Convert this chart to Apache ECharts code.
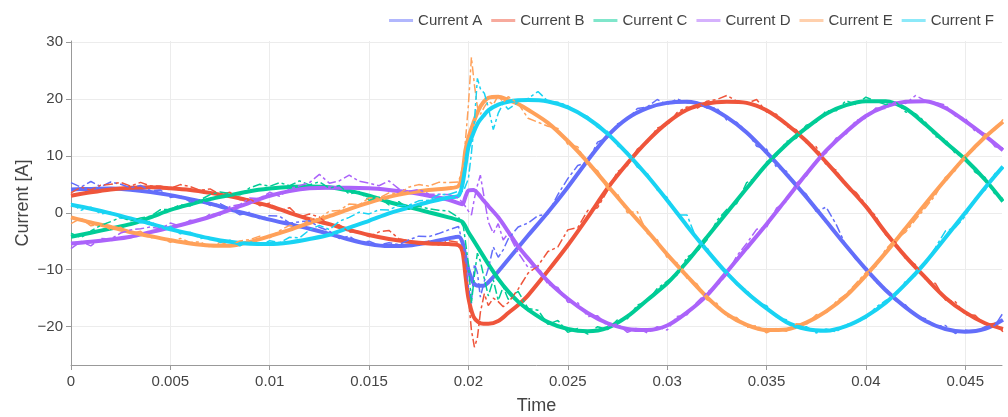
<!DOCTYPE html>
<html><head><meta charset="utf-8">
<script src="https://cdn.jsdelivr.net/npm/echarts@6/dist/echarts.min.js"></script>
<style>html,body{margin:0;padding:0;background:#fff}#c{width:1008px;height:417px}</style>
</head><body><div id="c"></div>
<script>
const names = ['Current A','Current B','Current C','Current D','Current E','Current F'];
const colors = ['#636efa','#EF553B','#00cc96','#ab63fa','#FFA15A','#19d3f3'];
const legendColors = ['#b1b7fd','#f7aa9d','#80e6cb','#d5b1fd','#ffd0ad','#8ce9f9'];
const xTicks = [0,0.005,0.01,0.015,0.02,0.025,0.03,0.035,0.04,0.045];
const yTicks = [-20,-10,0,10,20,30];

// smooth (fitted) curves, time in ms
const tFit = [0,1,2,3,4,5,6,7,8,9,10,11,12,13,14,15,16,17,18,19,
  19.5,19.7,19.85,20,20.25,20.5,20.75,21,21.5,22,22.5,
  23,24,25,26,27,28,29,30,31,32,33,34,35,36,37,38,39,40,41,42,43,44,45,46,46.9];
const fitA = [4.1,4.2,4.25,4.05,3.65,3.1,2.4,1.6,0.6,-0.3,-1.2,-2.0,-2.8,-3.7,-4.7,-5.5,-5.85,-5.75,-5.2,-4.5,
  -4.2,-5.2,-7.8,-10.0,-12.3,-12.8,-12.8,-12.2,-10.3,-8.2,-6.1,
  -4.0,0.1,4.5,9.2,13.5,16.6,18.4,19.3,19.5,18.7,16.8,14.1,10.6,6.8,2.8,-1.5,-5.8,-9.9,-13.6,-16.6,-19.0,-20.4,-20.9,-20.4,-18.8];
const fitB = [3.0,3.6,4.1,4.4,4.5,4.3,4.0,3.5,2.9,2.1,1.2,0.0,-1.1,-2.0,-3.0,-3.9,-4.6,-5.1,-5.4,-5.5,
  -5.7,-6.8,-11.0,-15.0,-18.2,-19.2,-19.5,-19.5,-19.0,-17.6,-16.2,
  -14.5,-10.2,-5.7,-0.8,4.3,8.7,12.6,15.8,18.1,19.2,19.5,19.3,18.0,15.6,12.6,8.9,5.0,1.1,-3.5,-7.7,-11.4,-14.9,-17.5,-19.4,-20.4];
const fitC = [-4.2,-3.5,-2.75,-2.0,-0.8,0.5,1.5,2.4,3.1,3.8,4.25,4.55,4.6,4.5,3.9,3.0,1.9,1.0,0.1,-0.8,
  -1.3,-1.6,-2.4,-3.4,-4.8,-6.2,-7.6,-9.0,-11.6,-13.8,-15.6,
  -17.0,-19.2,-20.4,-20.8,-20.2,-18.2,-15.3,-12.4,-8.6,-4.3,0.0,4.3,8.5,12.0,14.9,17.4,18.9,19.6,19.6,18.3,15.5,12.4,9.4,5.8,2.0];
const fitD = [-5.4,-5.1,-4.7,-4.2,-3.4,-2.6,-1.7,-0.7,0.5,1.8,3.0,3.8,4.3,4.4,4.4,4.3,4.0,3.6,3.0,2.3,
  1.7,1.5,2.8,3.9,4.0,3.3,2.2,1.2,-0.8,-3.3,-5.9,
  -8.0,-12.0,-15.1,-17.6,-19.4,-20.4,-20.6,-19.8,-17.5,-14.5,-10.4,-6.2,-2.0,2.4,6.8,10.9,14.2,17.0,18.7,19.5,19.6,18.4,16.1,13.5,11.0];
const fitE = [-0.8,-1.7,-2.5,-3.4,-4.1,-4.8,-5.4,-5.75,-5.8,-5.1,-4.1,-3.0,-1.8,-0.6,0.65,1.8,2.8,3.5,4.0,4.3,
  4.7,7.0,11.0,13.2,15.8,18.0,19.4,20.2,20.4,19.8,19.1,
  18.1,15.8,12.6,8.9,4.8,0.7,-3.2,-7.3,-11.1,-14.8,-17.8,-19.7,-20.6,-20.5,-19.3,-17.3,-14.6,-11.0,-7.0,-2.7,1.6,5.8,9.8,13.3,16.0];
const fitF = [1.4,0.7,-0.1,-1.0,-1.9,-2.9,-3.7,-4.5,-5.1,-5.45,-5.5,-5.2,-4.6,-3.85,-2.6,-1.4,-0.1,0.9,1.9,2.7,
  3.0,5.0,8.3,11.5,14.0,15.9,17.0,18.0,19.0,19.5,19.75,
  19.8,19.55,18.5,16.6,13.9,10.4,6.5,2.2,-2.3,-6.6,-10.6,-14.0,-16.8,-19.2,-20.4,-20.7,-19.9,-18.2,-15.8,-12.5,-8.7,-4.4,0.0,4.4,8.1];

// noisy (measured) curves, time in ms
const tMeas = [0,0.5,1,1.5,2,2.5,3,3.5,4,4.5,5,5.5,6,6.5,7,7.5,8,8.5,9,9.5,10,10.5,11,11.5,12,12.5,13,13.5,14,14.5,15,15.5,16,16.5,17,17.5,18,18.5,19,19.5,
  19.75,20,20.15,20.3,20.45,20.6,20.8,21,21.25,21.5,21.75,22,
  22.5,23,23.5,24,24.5,25,25.5,26,26.5,27,27.5,28,28.5,29,29.5,30,30.5,31,31.5,32,32.5,33,33.5,34,34.5,35,35.5,36,36.5,37,37.5,38,38.5,39,39.5,40,40.5,41,41.5,42,42.5,43,43.5,44,44.5,45,45.5,46,46.5,
  46.9];
const measA = [5.3,4.5,5.5,4.6,5.4,5.0,4.4,4.8,3.9,4.0,2.7,3.0,1.9,2.2,1.3,1.6,0.7,-0.35,0.1,-1.05,-0.5,-0.6,-1.8,-1.6,-1.4,-2.55,-3.2,-4.5,-4.1,-5.3,-5.0,-5.7,-5.25,-5.6,-4.75,-4.1,-4.2,-3.65,-3.0,-2.4,
  -6.0,-13.0,-15.9,-9.0,-10.5,-14.8,-12.0,-9.8,-6.0,-7.8,-6.5,-4.6,
  -2.5,-1.8,-0.5,-0.2,3.2,6.0,8.3,8.9,12.4,13.2,15.6,16.4,18.3,18.6,19.9,19.0,20.0,19.3,19.4,18.4,18.4,16.3,15.9,14.3,11.7,11.2,8.0,7.3,4.5,3.3,0.2,1.0,-2.0,-5.8,-8.2,-9.5,-12.2,-13.3,-15.4,-16.2,-18.1,-18.6,-19.9,-19.8,-21.2,-20.6,-21.0,-20.0,-19.8,
  -17.6];
const measB = [3.5,4.5,4.0,4.85,5.0,5.35,4.7,5.35,4.7,4.7,4.3,4.95,4.6,3.95,4.2,3.2,3.6,2.3,2.5,1.25,1.7,0.3,0.9,-0.75,-0.2,-0.75,-2.2,-2.1,-3.4,-3.25,-4.2,-3.35,-3.1,-4.55,-4.9,-5.55,-5.0,-5.65,-4.9,-5.2,
  -7.0,-15.0,-20.6,-23.6,-22.0,-17.5,-14.2,-16.3,-15.0,-15.6,-16.5,-15.8,
  -13.4,-10.6,-9.3,-6.8,-6.0,-3.0,-2.6,0.4,0.9,3.9,7.2,8.3,11.2,12.3,14.9,15.4,17.6,18.6,18.3,19.6,19.9,20.6,19.6,19.2,19.9,17.7,17.3,15.2,14.6,12.3,11.6,8.4,7.5,4.7,3.6,1.4,-0.6,-3.9,-5.2,-8.1,-9.1,-11.7,-12.4,-15.3,-15.6,-17.9,-18.0,-19.7,-19.4,
  -20.9];
const measC = [-3.6,-4.35,-3.2,-2.2,-1.55,-0.8,-1.4,-0.9,-0.6,0.55,0.6,1.4,1.2,2.25,3.2,3.65,3.4,3.15,4.4,5.0,4.65,5.3,4.75,5.6,4.9,5.45,4.3,4.8,3.3,3.75,2.2,2.75,1.4,1.95,0.6,1.15,0.7,0.45,0.3,-0.8,
  -2.5,-9.0,-15.9,-11.0,-7.1,-8.5,-11.6,-14.6,-11.8,-15.4,-13.0,-15.2,
  -13.8,-16.8,-17.1,-19.6,-18.9,-21.0,-20.3,-21.3,-20.0,-20.5,-18.8,-18.6,-16.2,-15.6,-13.3,-12.0,-10.9,-7.8,-6.8,-4.8,-1.4,0.6,1.6,5.3,6.2,8.9,10.0,12.5,13.1,15.4,15.9,17.9,17.9,19.7,19.0,20.3,19.6,19.0,19.5,17.7,17.4,15.9,13.4,12.9,10.4,9.8,7.1,6.2,3.2,
  2.5];
const measD = [-6.3,-5.05,-5.8,-4.5,-4.6,-3.55,-3.0,-2.8,-2.5,-2.8,-1.8,-2.35,-1.3,-1.5,-0.2,-0.4,1.1,1.45,2.6,2.5,3.6,2.9,4.2,4.75,5.3,6.75,5.2,5.6,6.6,5.55,5.2,4.75,5.6,4.2,3.8,4.1,3.3,3.25,3.2,2.6,
  1.6,0.3,-0.4,2.5,4.8,6.6,2.5,-1.6,-3.6,-1.9,-4.8,-3.6,
  -7.0,-9.6,-9.4,-12.6,-13.1,-15.7,-15.8,-18.2,-18.1,-19.9,-19.5,-21.0,-20.2,-21.1,-20.0,-20.6,-18.2,-17.9,-15.7,-14.0,-12.8,-10.9,-7.6,-5.4,-2.9,-2.6,0.8,2.0,5.2,6.4,9.2,10.5,13.1,13.8,16.2,16.6,18.4,18.3,19.6,19.2,20.6,19.7,19.4,18.9,17.0,16.6,14.3,13.9,11.6,
  11.4];
const measE = [-1.9,-0.95,-2.3,-1.9,-3.0,-2.55,-3.6,-3.25,-4.4,-4.25,-5.2,-4.5,-5.2,-5.1,-6.05,-5.2,-5.7,-4.95,-4.7,-4.1,-4.4,-3.15,-2.2,-2.6,-1.1,-1.0,0.3,0.4,1.55,1.4,2.6,2.6,3.5,3.35,4.5,4.95,4.7,5.35,5.3,5.4,
  8.5,19.0,27.3,22.5,18.6,17.3,18.6,19.6,19.0,20.6,19.4,20.4,
  19.2,16.6,15.9,15.2,14.8,12.0,11.6,8.3,7.4,4.2,3.3,0.0,0.2,-3.6,-4.7,-7.9,-8.8,-11.5,-12.5,-15.3,-15.9,-18.2,-18.4,-20.1,-19.8,-21.1,-20.3,-20.8,-19.5,-19.6,-17.9,-17.6,-15.6,-14.3,-12.4,-10.5,-9.4,-6.4,-4.6,-3.4,-1.2,0.9,3.1,6.2,7.4,10.2,11.3,13.8,14.6,
  16.4];
const measF = [1.7,0.45,1.0,-0.2,0.1,-0.95,-0.9,-1.75,-1.5,-2.7,-2.4,-3.7,-3.4,-4.5,-4.3,-5.2,-4.8,-5.8,-5.05,-5.8,-4.9,-5.25,-4.3,-4.4,-3.0,-2.2,-2.95,-1.5,-0.8,0.1,-0.2,0.55,0.5,1.3,1.3,2.1,2.2,3.2,3.2,3.8,
  3.8,6.0,10.5,16.0,23.6,21.8,21.0,18.5,14.6,17.5,19.2,18.2,
  19.4,20.1,21.3,19.6,19.4,18.8,17.6,16.9,15.0,14.3,11.8,10.7,8.0,6.9,4.0,2.7,-0.4,-0.4,-4.8,-6.1,-8.9,-10.2,-12.6,-13.6,-15.7,-16.3,-18.3,-18.8,-20.3,-20.0,-21.1,-20.4,-20.9,-19.6,-19.3,-18.5,-16.6,-15.4,-14.6,-12.0,-11.0,-8.9,-6.1,-3.2,-2.6,-0.6,2.5,4.0,6.9,
  7.8];

const fits = [fitA, fitB, fitC, fitD, fitE, fitF];
const meas = [measA, measB, measC, measD, measE, measF];
const font = "'Liberation Sans', Arial, Helvetica, sans-serif";

const series = [];
fits.forEach((arr, i) => {
  series.push({
    name: names[i], type: 'line', symbol: 'none', showSymbol: false, smooth: 0.3,
    data: tFit.map((t, k) => [t / 1000, arr[k]]),
    lineStyle: { width: 4, color: colors[i] }, itemStyle: { color: colors[i] },
    z: 2, silent: true
  });
});
meas.forEach((arr, i) => {
  series.push({
    name: names[i], type: 'line', symbol: 'none', showSymbol: false, smooth: false,
    data: tMeas.map((t, k) => [t / 1000, arr[k]]),
    lineStyle: { width: 1.5, color: colors[i], type: [9, 3, 3, 3] }, itemStyle: { color: colors[i] },
    z: 3, silent: true
  });
});

const axisColor = '#999';
const chart = echarts.init(document.getElementById('c'), null, { renderer: 'canvas' });
chart.setOption({
  animation: false,
  backgroundColor: '#fff',
  textStyle: { fontFamily: font, color: '#444' },
  grid: { left: 71, right: 6, top: 41, bottom: 52, containLabel: false, outerBoundsMode: 'none' },
  legend: {
    data: names.map((n, i) => ({ name: n, itemStyle: { color: legendColors[i] } })),
    icon: 'rect', itemWidth: 24, itemHeight: 3, itemGap: 9,
    right: 9, top: 8,
    textStyle: { fontSize: 15, color: '#444', fontFamily: font }
  },
  xAxis: {
    type: 'value', min: 0, max: 0.04685,
    name: 'Time', nameLocation: 'middle', nameGap: 32, nameMoveOverlap: false,
    nameTextStyle: { fontSize: 18, color: '#444', fontFamily: font },
    axisLine: { show: true, onZero: false, lineStyle: { color: axisColor, width: 1 } },
    axisTick: { show: true, inside: false, length: 5, customValues: xTicks, lineStyle: { color: axisColor } },
    axisLabel: { customValues: xTicks, fontSize: 15, color: '#444', margin: 9, fontFamily: font,
      formatter: v => String(v) },
    splitLine: { show: true, lineStyle: { color: '#ececec', width: 1 } }
  },
  yAxis: {
    type: 'value', min: -26.73, max: 30.17,
    name: 'Current [A]', nameLocation: 'middle', nameGap: 39, nameRotate: 90, nameMoveOverlap: false,
    nameTextStyle: { fontSize: 18, color: '#444', fontFamily: font },
    axisLine: { show: true, onZero: false, lineStyle: { color: axisColor, width: 1 } },
    axisTick: { show: true, inside: false, length: 5, customValues: yTicks, lineStyle: { color: axisColor } },
    axisLabel: { customValues: yTicks, fontSize: 15, color: '#444', margin: 8, fontFamily: font,
      formatter: v => (v < 0 ? '\u2212' + Math.abs(v) : String(v)) },
    splitLine: { show: true, lineStyle: { color: '#ececec', width: 1 } }
  },
  series: series
});
</script></body></html>
